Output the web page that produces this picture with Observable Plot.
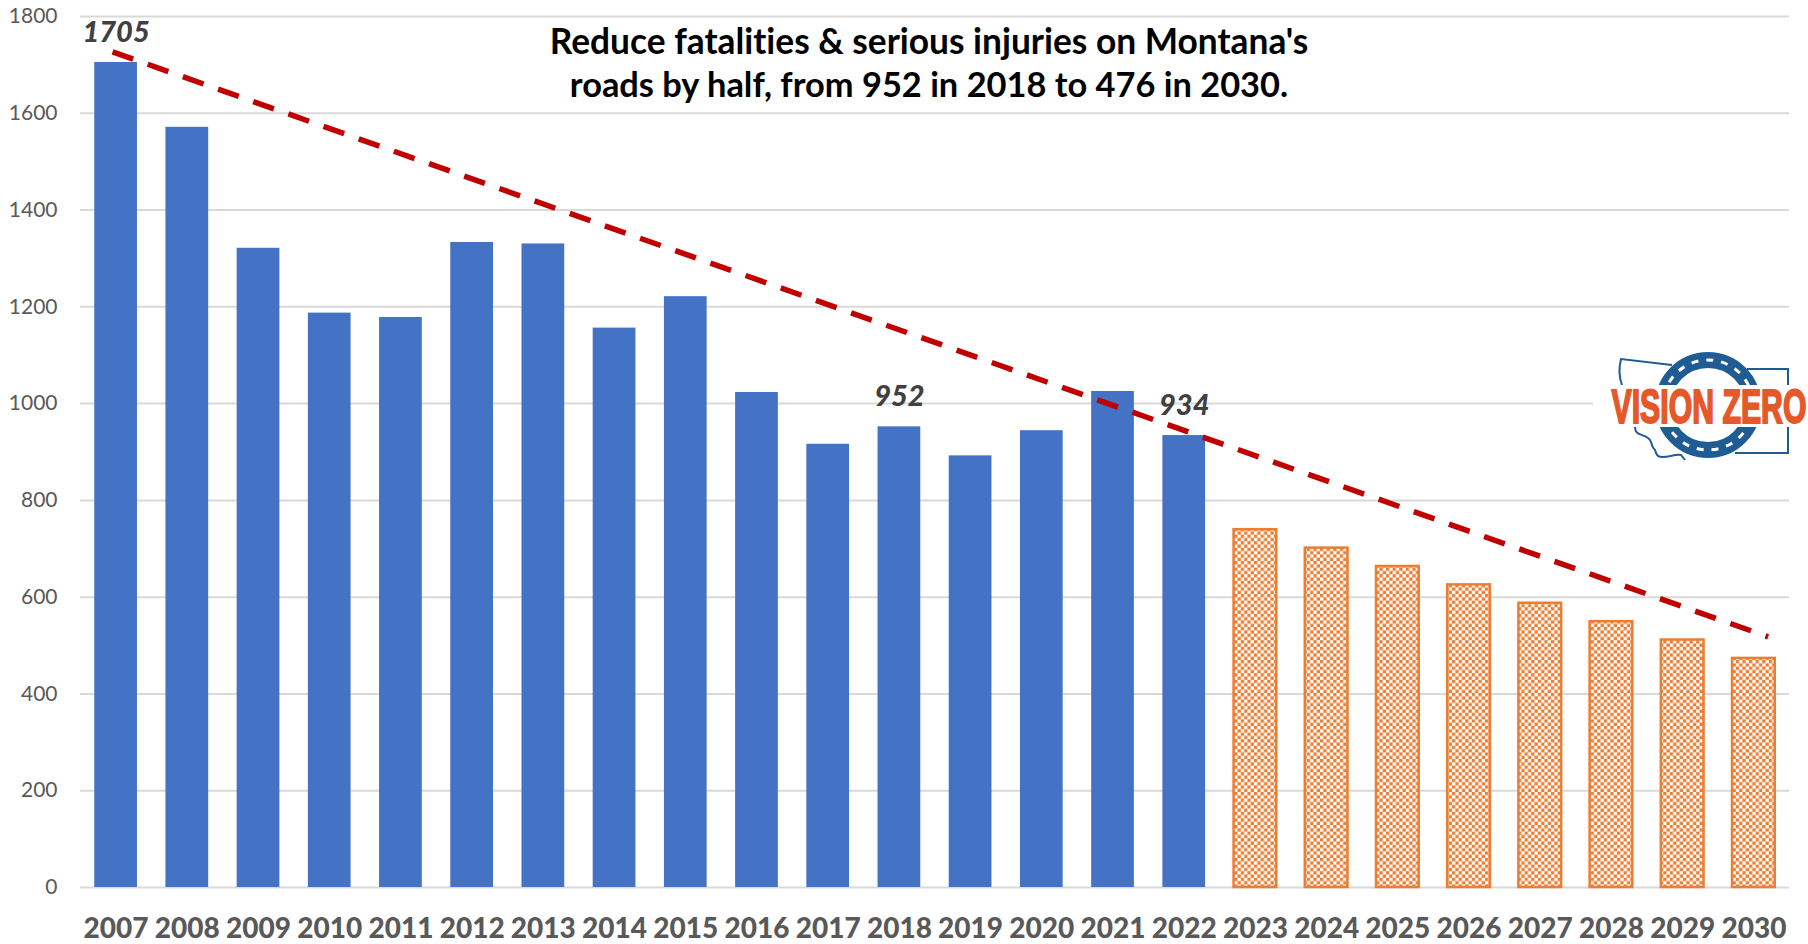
<!DOCTYPE html>
<html><head><meta charset="utf-8">
<script src="https://cdn.jsdelivr.net/npm/d3@7"></script>
<script src="https://cdn.jsdelivr.net/npm/@observablehq/plot@0.6"></script>
<style>
html,body{margin:0;padding:0;background:#fff}
#wrap{position:relative;width:1808px;height:944px;overflow:hidden;font-variant-ligatures:none}
#wrap svg{display:block}
#logo{position:absolute;left:1593px;top:335px}
</style></head><body><div id="wrap"></div>
<script>
const years = [2007,2008,2009,2010,2011,2012,2013,2014,2015,2016,2017,2018,2019,2020,2021,2022];
const actual = [1705,1571,1321,1187,1178,1333,1330,1156,1221,1023,916,952,892,944,1025,934];
const targetYears = [2023,2024,2025,2026,2027,2028,2029,2030];
const target = [742,704,666,628,590,552,514,476];
const trendYears = [2006.95,2030.2];
const trendValues = [1727,518];
const labelYears = [2007,2018,2022];
const labelValues = [1705,952,934];
const yTicks = [0,200,400,600,800,1000,1200,1400,1600,1800];
const xTicks = years.concat(targetYears);
const titleLine1 = "Reduce fatalities & serious injuries on Montana's";
const titleLine2 = "roads by half, from 952 in 2018 to 476 in 2030.";
const FONT = "Lato, Carlito, sans-serif";

const actualRows = years.map((year,i)=>({x1:year-0.3,x2:year+0.3,value:actual[i]}));
const targetRows = targetYears.map((year,i)=>({x1:year-0.3,x2:year+0.3,value:target[i]}));
const trendRows = trendYears.map((year,i)=>({year,value:trendValues[i]}));
const labelRows = labelYears.map((year,i)=>({year,value:labelValues[i]}));

const chart = Plot.plot({
  width:1808,height:944,marginLeft:80,marginRight:19,marginTop:16,marginBottom:57,
  style:{fontFamily:FONT,background:"#fff"},
  x:{domain:[2006.5,2030.5],label:null},
  y:{domain:[0,1800],label:null},
  marks:[
    ()=>{const s=d3.create("svg:g");
      const c=3.3;
      const p=s.append("defs").append("pattern").attr("id","checker").attr("patternUnits","userSpaceOnUse").attr("width",2*c).attr("height",2*c);
      p.append("rect").attr("width",2*c).attr("height",2*c).attr("fill","#fff");
      p.append("rect").attr("width",c).attr("height",c).attr("fill","#ED7D31");
      p.append("rect").attr("x",c).attr("y",c).attr("width",c).attr("height",c).attr("fill","#ED7D31");
      return s.node();},
    Plot.ruleY(yTicks,{stroke:"#d9d9d9",strokeWidth:2}),
    Plot.rectY(actualRows,{x1:"x1",x2:"x2",y:"value",fill:"#4472C4"}),
    Plot.rectY(targetRows,{x1:"x1",x2:"x2",y:"value",insetTop:1.25,fill:"url(#checker)",stroke:"#ED7D31",strokeWidth:2.5}),
    Plot.line(trendRows,{x:"year",y:"value",stroke:"#C00000",strokeWidth:5.5,strokeDasharray:"21.9 15.4",strokeLinecap:"butt"}),
    Plot.text(labelRows,{x:"year",y:"value",text:d=>String(d.value),dy:-30,fontSize:29,fontWeight:900,fontStyle:"italic",fill:"#404040"}),
    Plot.axisY({ticks:yTicks,tickSize:0,tickPadding:23,fontSize:21,color:"#595959",tickFormat:d=>String(d),label:null}),
    Plot.axisX({ticks:xTicks,tickSize:0,tickPadding:31,fontSize:28,fontWeight:900,color:"#595959",tickFormat:d=>String(d),label:null}),
    Plot.text([titleLine1],{frameAnchor:"top",dx:-6,dy:12,fontSize:35.3,fontWeight:700,fill:"#000",lineAnchor:"top"}),
    Plot.text([titleLine2],{frameAnchor:"top",dx:-6,dy:56,fontSize:34.4,fontWeight:700,fill:"#000",lineAnchor:"top"})
  ]
});
document.getElementById("wrap").appendChild(chart);

const logo = `<svg id="logo" xmlns="http://www.w3.org/2000/svg" width="215" height="135" viewBox="0 0 215 135">
<rect width="215" height="135" fill="#fff"/>
<g fill="none" stroke="#1F5C94" stroke-width="2">
<path d="M79 30 L28 24 C26 32 26 42 29 50"/>
<path d="M154 34 L195 34 L195 52"/>
<path d="M195 92 L195 118 L142 118"/>
<path d="M42 92 C42 102 52 98 57 105 C60 110 58 112 62 115 C64 122 66 122 70 122 C76 122 82 119 88 120 L92 125"/>
</g>
<circle cx="115" cy="70" r="45" fill="none" stroke="#1F5C94" stroke-width="16"/>
<circle cx="115" cy="70" r="45" fill="none" stroke="#fff" stroke-width="3" stroke-dasharray="7 8"/>
<rect x="0" y="50" width="215" height="42" fill="#fff"/>
<text transform="translate(116,88) scale(.63,1)" text-anchor="middle" font-family="'Liberation Sans', sans-serif" font-weight="700" font-size="48" fill="#E5582A" stroke="#E5582A" stroke-width="2">VISION ZERO</text>
</svg>`;
document.getElementById("wrap").insertAdjacentHTML("beforeend",logo);
</script></body></html>
